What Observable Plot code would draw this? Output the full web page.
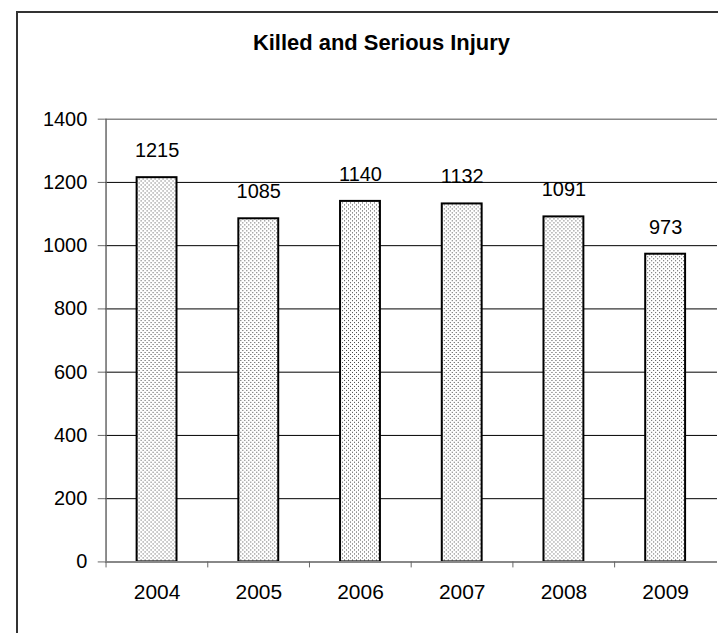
<!DOCTYPE html>
<html>
<head>
<meta charset="utf-8">
<script src="https://cdn.jsdelivr.net/npm/d3@7"></script>
<script src="https://cdn.jsdelivr.net/npm/@observablehq/plot@0.6"></script>
<style>
  html, body { margin: 0; padding: 0; background: #fff; }
  body { width: 718px; height: 633px; overflow: hidden; position: relative; font-family: "Liberation Sans", Arial, sans-serif; }
  #border { position: absolute; left: 16px; top: 11px; width: 900px; height: 900px; border: 2px solid #333; box-sizing: border-box; }
  #chart { position: absolute; left: 0; top: 0; }
</style>
</head>
<body>
<div id="border"></div>
<div id="chart"></div>
<script>
const title = "Killed and Serious Injury";
const years = ["2004", "2005", "2006", "2007", "2008", "2009"];
const values = [1215, 1085, 1140, 1132, 1091, 973];
const yTicks = [0, 200, 400, 600, 800, 1000, 1200, 1400];

const data = years.map((year, i) => ({year, value: values[i]}));

const W = 720, H = 633, ML = 105, MR = 1, MT = 119, MB = 70;
const step = (W - ML - MR) / years.length;

const defs = () => {
  const d = d3.create("svg:defs");
  const p = d.append("pattern").attr("id", "dots")
    .attr("width", 4).attr("height", 4).attr("patternUnits", "userSpaceOnUse");
  p.append("rect").attr("width", 4).attr("height", 4).attr("fill", "#fff");
  p.append("rect").attr("x", 1).attr("y", 1).attr("width", 1).attr("height", 1).attr("fill", "#444").attr("shape-rendering", "crispEdges");
  p.append("rect").attr("x", 3).attr("y", 3).attr("width", 1).attr("height", 1).attr("fill", "#444").attr("shape-rendering", "crispEdges");
  return d.node();
};

const chart = Plot.plot({
  width: W, height: H,
  marginLeft: ML, marginRight: MR, marginTop: MT, marginBottom: MB,
  style: {fontFamily: "'Liberation Sans', Arial, sans-serif", color: "#000", background: "transparent", overflow: "visible"},
  x: {domain: years, paddingInner: 0.61, paddingOuter: 0.305, axis: null, label: null},
  y: {domain: [0, 1400], axis: null, label: null},
  marks: [
    defs,
    Plot.ruleY(yTicks.filter(v => v > 0 && v < 1400), {y: d => d, stroke: "#000", strokeWidth: 1}),
    Plot.ruleY([1400], {stroke: "#888", strokeWidth: 1.5}),
    Plot.barY(data, {x: "year", y: "value", fill: "url(#dots)", stroke: "#000", strokeWidth: 2}),
    Plot.ruleX([years[0]], {x: d => d, dx: -step / 2, stroke: "#666", strokeWidth: 1.5}),
    Plot.ruleY([0], {stroke: "#888", strokeWidth: 2}),
    Plot.axisY({ticks: yTicks, tickSize: 7, tickPadding: 11, fontSize: 20, stroke: "#666", label: null, tickFormat: d => String(d)}),
    Plot.axisX({tickSize: 6, tickFormat: () => "", dx: -step / 2, stroke: "#666", label: null}),
    Plot.axisX({tickSize: 0, tickPadding: 22, fontSize: 21, label: null}),
    Plot.text(data, {x: "year", y: "value", text: d => String(d.value), dy: -27, lineAnchor: "middle", fontSize: 20, fill: "#000"}),
    Plot.text([title], {frameAnchor: "top", dx: 382 - (ML + (W - ML - MR) / 2), dy: -76, lineAnchor: "middle", fontSize: 22, fontWeight: "bold", fill: "#000"})
  ]
});
document.getElementById("chart").appendChild(chart);
</script>
</body>
</html>
